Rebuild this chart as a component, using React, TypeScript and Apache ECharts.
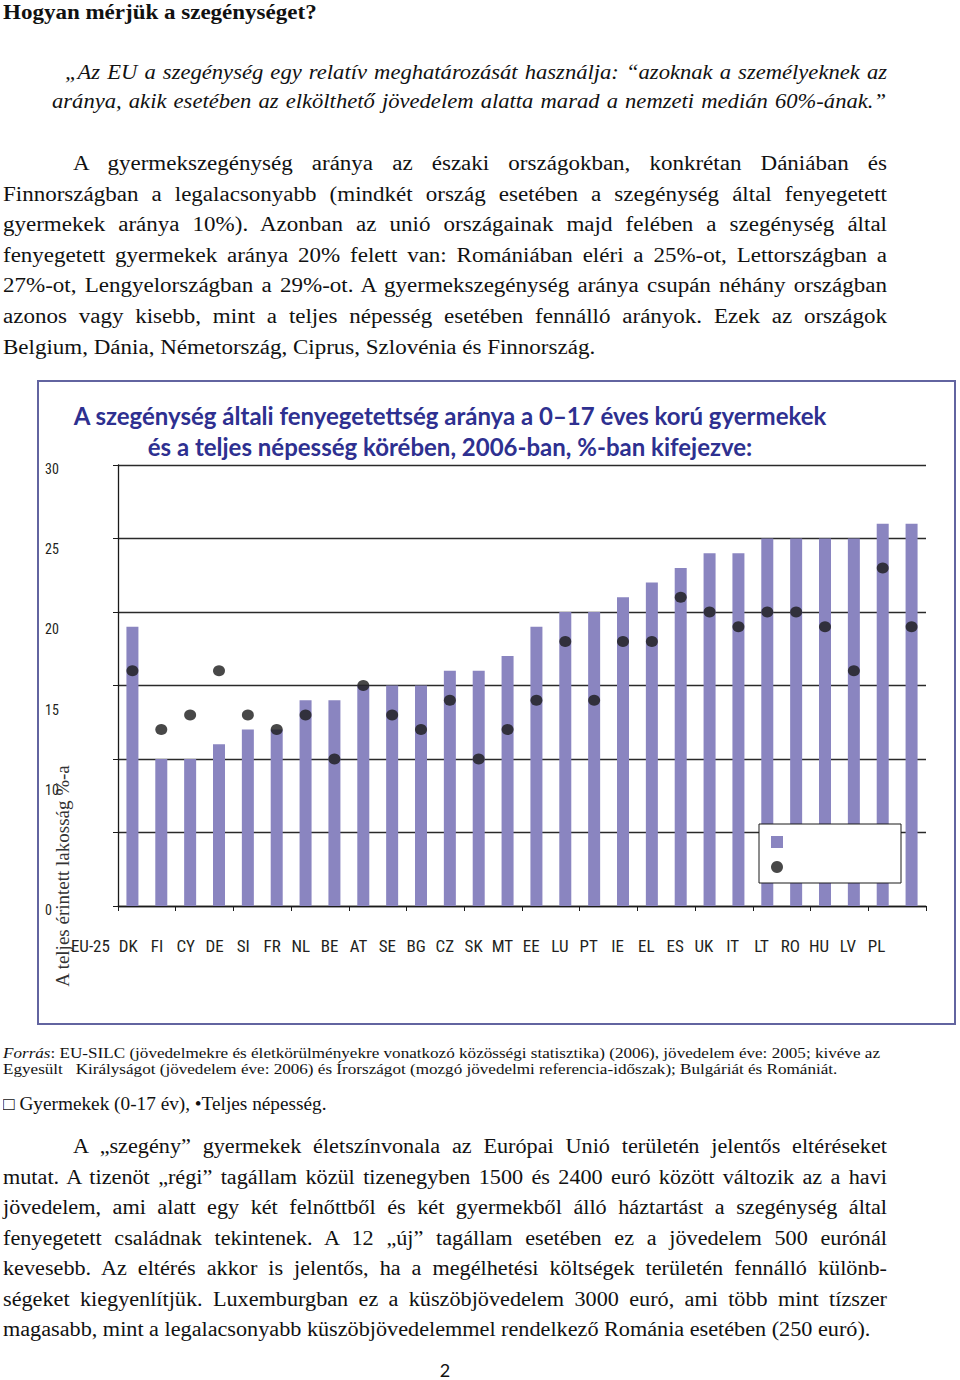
import React, { useEffect, useRef } from "react";
import * as echarts from "echarts";

// ---------- DATA ----------
const categories = ["EU-25", "DK", "FI", "CY", "DE", "SI", "FR", "NL", "BE", "AT", "SE", "BG", "CZ", "SK", "MT", "EE", "LU", "PT", "IE", "EL", "ES", "UK", "IT", "LT", "RO", "HU", "LV", "PL"];
const childRates = [19, 10, 10, 11, 12, 12, 14, 14, 15, 15, 15, 16, 16, 17, 19, 20, 20, 21, 22, 23, 24, 24, 25, 25, 25, 25, 26, 26];
const totalRates = [16, 12, 13, 16, 13, 12, 13, 10, 15, 13, 12, 14, 10, 12, 14, 18, 14, 18, 18, 21, 20, 19, 20, 20, 19, 16, 23, 19];
const yTickLabels = ["0", "", "", "10", "", "15", "", "20", "", "25", "", "30"];
const seriesNames = ["Gyermekek (0-17 év)", "Teljes népesség"];
const chartTitle = "A szegénység általi fenyegetettség aránya a 0–17 éves korú gyermekek\nés a teljes népesség körében, 2006-ban, %-ban kifejezve:";
const yAxisName = "A teljes érintett lakosság %-a";

const heading = "Hogyan mérjük a szegénységet?";
const quoteLines = [
  "„Az EU a szegénység egy relatív meghatározását használja: “azoknak a személyeknek az",
  "aránya, akik esetében az elkölthető jövedelem alatta marad a nemzeti medián 60%-ának.”",
];
const para1Lines = [
  "A gyermekszegénység aránya az északi országokban, konkrétan Dániában és",
  "Finnországban a legalacsonyabb (mindkét ország esetében a szegénység által fenyegetett",
  "gyermekek aránya 10%). Azonban az unió országainak majd felében a szegénység által",
  "fenyegetett gyermekek aránya 20% felett van: Romániában eléri a 25%-ot, Lettországban a",
  "27%-ot, Lengyelországban a 29%-ot. A gyermekszegénység aránya csupán néhány országban",
  "azonos vagy kisebb, mint a teljes népesség esetében fennálló arányok. Ezek az országok",
  "Belgium, Dánia, Németország, Ciprus, Szlovénia és Finnország.",
];
const sourceLabel = "Forrás";
const sourceLines = [
  ": EU-SILC (jövedelmekre és életkörülményekre vonatkozó közösségi statisztika) (2006), jövedelem éve: 2005; kivéve az",
  "Egyesült   Királyságot (jövedelem éve: 2006) és Írországot (mozgó jövedelmi referencia-időszak); Bulgáriát és Romániát.",
];
const legendNote = "□ Gyermekek (0-17 év), •Teljes népesség.";
const para2Lines = [
  "A „szegény” gyermekek életszínvonala az Európai Unió területén jelentős eltéréseket",
  "mutat. A tizenöt „régi” tagállam közül tizenegyben 1500 és 2400 euró között változik az a havi",
  "jövedelem, ami alatt egy két felnőttből és két gyermekből álló háztartást a szegénység által",
  "fenyegetett családnak tekintenek. A 12 „új” tagállam esetében ez a jövedelem 500 eurónál",
  "kevesebb. Az eltérés akkor is jelentős, ha a megélhetési költségek területén fennálló különb-",
  "ségeket kiegyenlítjük. Luxemburgban ez a küszöbjövedelem 3000 euró, ami több mint tízszer",
  "magasabb, mint a legalacsonyabb küszöbjövedelemmel rendelkező Románia esetében (250 euró).",
];
const pageNumber = "2";

// ---------- STYLES ----------
const SERIF = "'Liberation Serif', 'Times New Roman', serif";
const NARROW = "'Liberation Sans Narrow', 'Arial Narrow', 'Roboto Condensed', sans-serif";

type LineProps = {
  y: number;
  x1: number;
  x2?: number;
  justify?: boolean;
  size?: number;
  lh?: number;
  sx?: number;
  style?: React.CSSProperties;
  children: React.ReactNode;
};

function Line({ y, x1, x2, justify, size = 20, lh = 22, sx = 1, style, children }: LineProps) {
  return (
    <div
      style={{
        position: "absolute",
        left: x1,
        top: y - lh / 2,
        width: x2 !== undefined ? (x2 - x1) / sx : undefined,
        height: lh,
        lineHeight: lh + "px",
        fontSize: size,
        fontFamily: SERIF,
        color: "#111",
        whiteSpace: justify ? "nowrap" : "pre",
        textAlign: justify ? "justify" : "left",
        textAlignLast: justify ? "justify" : "left",
        transform: `scaleX(${sx})`,
        transformOrigin: "left center",
        ...style,
      }}
    >
      {children}
    </div>
  );
}

function Chart() {
  const ref = useRef<HTMLDivElement>(null);
  useEffect(() => {
    if (!ref.current) return;
    const chart = echarts.init(ref.current, undefined, { renderer: "svg" });
    const axisColor = "#1a1a1a";
    const option: any = {
      animation: false,
      backgroundColor: "#fff",
      title: {
        text: chartTitle,
        left: 408,
        top: 15,
        textAlign: "center",
        textStyle: {
          fontFamily: "Lato, 'Open Sans', sans-serif",
          fontWeight: "bold",
          fontSize: 24,
          lineHeight: 31,
          color: "#2e3090",
        },
      },
      legend: {
        left: 722,
        top: 444,
        orient: "vertical",
        padding: [12, 118, 10, 12],
        itemWidth: 12,
        itemHeight: 12,
        itemGap: 13,
        borderColor: axisColor,
        borderWidth: 1,
        backgroundColor: "#fff",
        selectedMode: false,
        formatter: () => "",
        data: [
          { name: seriesNames[0], icon: "rect" },
          { name: seriesNames[1], icon: "circle" },
        ],
      },
      grid: [
        { left: 81, top: 85, width: 808, height: 441 },
        { left: 48, top: 89, width: 806, height: 441 },
      ],
      xAxis: [
        {
          type: "category",
          gridIndex: 0,
          data: categories,
          axisLine: { lineStyle: { color: axisColor, width: 1.3 } },
          axisTick: { show: true, length: 5, lineStyle: { color: axisColor } },
          axisLabel: { show: false },
        },
        {
          type: "category",
          gridIndex: 1,
          data: categories.map((c, i) =>
            i === 0 ? { value: c, textStyle: { padding: [0, 18, 0, 0] } } : c
          ),
          axisLine: { show: false },
          axisTick: { show: false },
          axisLabel: { interval: 0, margin: 27, fontSize: 17, fontFamily: NARROW, color: "#231f20" },
        },
      ],
      yAxis: [
        {
          type: "value",
          gridIndex: 0,
          min: 0,
          max: 30,
          interval: 5,
          axisLine: { show: true, lineStyle: { color: axisColor, width: 1.3 } },
          axisTick: { show: true, length: 5, lineStyle: { color: axisColor } },
          axisLabel: { show: false },
          splitLine: { lineStyle: { color: "#2a2a2a", width: 1.3 } },
        },
        {
          type: "category",
          gridIndex: 1,
          data: yTickLabels,
          boundaryGap: false,
          axisLine: { show: false },
          axisTick: { show: false },
          splitLine: { show: false },
          axisLabel: { interval: 0, align: "left", margin: 40, fontSize: 14, fontFamily: NARROW, color: "#231f20" },
        },
      ],
      series: [
        {
          name: seriesNames[0],
          type: "bar",
          xAxisIndex: 0,
          yAxisIndex: 0,
          data: childRates,
          barWidth: 12,
          itemStyle: { color: "#8a85c0" },
        },
        {
          name: seriesNames[1],
          type: "scatter",
          xAxisIndex: 0,
          yAxisIndex: 0,
          data: totalRates,
          symbol: "circle",
          symbolSize: [12, 11],
          itemStyle: { color: "#1a1a1a" },
          z: 5,
        },
      ],
      graphic: [
        {
          type: "rect",
          silent: true,
          shape: { x: 1, y: 1, width: 917, height: 643 },
          style: { fill: "none", stroke: "#6264a0", lineWidth: 2 },
        },
        {
          type: "text",
          x: 25,
          y: 496,
          rotation: Math.PI / 2,
          silent: true,
          style: {
            text: yAxisName,
            fontSize: 19,
            fontFamily: "'Liberation Serif', serif",
            fill: "#333",
            align: "center",
            verticalAlign: "middle",
          },
        },
      ],
    };
    chart.setOption(option);
    return () => chart.dispose();
  }, []);
  return (
    <div
      ref={ref}
      style={{ position: "absolute", left: 37, top: 380, width: 920, height: 646 }}
    />
  );
}

export default function App() {
  useEffect(() => {
    document.body.style.margin = "0";
  }, []);
  const p1y = [163, 194, 224, 255, 285, 316, 347];
  const p2y = [1146, 1177, 1207, 1238, 1268, 1299, 1329];
  return (
    <div style={{ position: "relative", width: 960, height: 1380, background: "#fff", overflow: "hidden" }}>
      <Line y={12} x1={3} sx={1.15} style={{ fontWeight: "bold" }}>{heading}</Line>
      <Line y={72} x1={65} x2={887} justify sx={1.13} style={{ fontStyle: "italic" }}>{quoteLines[0]}</Line>
      <Line y={101} x1={52} x2={886} justify sx={1.13} style={{ fontStyle: "italic" }}>{quoteLines[1]}</Line>
      {para1Lines.map((t, i) => (
        <Line
          key={"p1" + i}
          y={p1y[i]}
          x1={i === 0 ? 73 : 3}
          x2={i === para1Lines.length - 1 ? undefined : 887}
          justify={i !== para1Lines.length - 1}
          sx={1.15}
        >
          {t}
        </Line>
      ))}
      <Chart />
      <Line y={1053} x1={3} x2={880} justify size={15} lh={16} sx={1.14}>
        <i>{sourceLabel}</i>
        {sourceLines[0]}
      </Line>
      <Line y={1069} x1={3} size={15} lh={16} sx={1.14}>{sourceLines[1]}</Line>
      <Line y={1104} x1={3} size={18} lh={20} sx={1.07}>{legendNote}</Line>
      {para2Lines.map((t, i) => (
        <Line
          key={"p2" + i}
          y={p2y[i]}
          x1={i === 0 ? 73 : 3}
          x2={i === para2Lines.length - 1 ? undefined : 887}
          justify={i !== para2Lines.length - 1}
          sx={1.11}
        >
          {t}
        </Line>
      ))}
      <div
        style={{
          position: "absolute",
          left: 425,
          width: 40,
          top: 1359,
          height: 22,
          lineHeight: "22px",
          textAlign: "center",
          fontFamily: "Lato, sans-serif",
          fontSize: 18,
          color: "#111",
        }}
      >
        {pageNumber}
      </div>
    </div>
  );
}
